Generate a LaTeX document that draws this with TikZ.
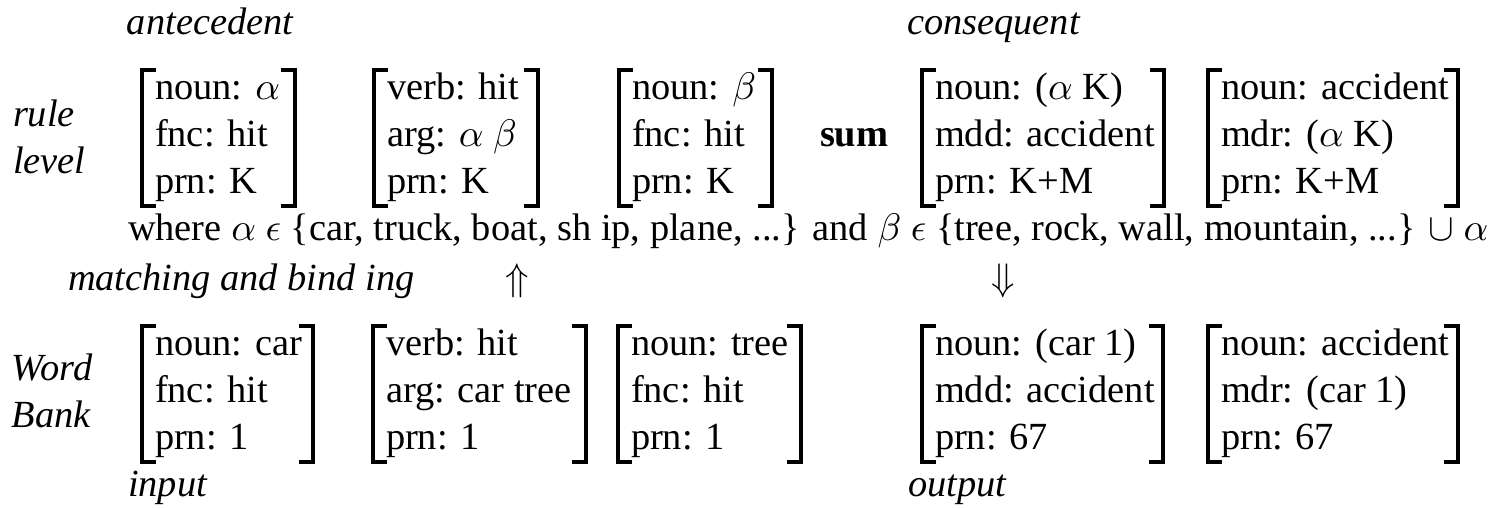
\documentclass[tikz,border=0pt]{standalone}
\usepackage{fontspec}
\setmainfont{Liberation Serif}
\usetikzlibrary{calc,fit}
\tikzset{
  txt/.style={anchor=base west, inner sep=0pt, outer sep=0pt},
  lab/.style={txt, font=\itshape},
  frame/.style={inner sep=0pt, outer sep=0pt},
  brk/.style={line width=0.8pt, line cap=rect},
  arr/.style={inner sep=0pt, anchor=center}
}
% #1 name, #2 left, #3 right, #4 top, #5-#7 lines
\newcommand\Proplet[7]{%
  \node[frame, fit={(#2,#4) (#3,#4+136)}] (#1) {};
  \draw[brk] ($(#1.north west)+(12,0)$) -- (#1.north west) -- (#1.south west) -- ($(#1.south west)+(12,0)$);
  \draw[brk] ($(#1.north east)+(-12,0)$) -- (#1.north east) -- (#1.south east) -- ($(#1.south east)+(-12,0)$);
  \node[txt] (#1-1) at ($(#1.north west)+(13,30)$) {#5};
  \node[txt] (#1-2) at ($(#1.north west)+(13,77)$) {#6};
  \node[txt] (#1-3) at ($(#1.north west)+(13,124)$) {#7};
}
\begin{document}
\begin{tikzpicture}[x=0.2604pt,y=-0.2604pt]
\useasboundingbox (0,0) rectangle (1503,508);
% labels
\node[lab] (ante) at (127,35) {antecedent};
\node[lab] (cons) at (907,35) {consequent};
\node[lab] (rule) at (13,127) {rule};
\node[lab] (level) at (13,174) {level};
\node[txt, font=\bfseries] (sum) at (820,147) {sum};
% rule level proplets
\Proplet{r1}{142}{295}{70}{noun: $\alpha$}{fnc: hit}{prn: K}
\Proplet{r2}{374}{538}{70}{verb: hit}{arg: $\alpha$ $\beta$}{prn: K}
\Proplet{r3}{619}{772}{70}{noun: $\beta$}{fnc: hit}{prn: K}
\Proplet{r4}{922}{1164}{70}{noun: ($\alpha$ K)}{mdd: accident}{prn: K+M}
\Proplet{r5}{1208}{1458}{70}{noun: accident}{mdr: ($\alpha$ K)}{prn: K+M}
% where line
\node[txt] (where) at (128,241) {where $\alpha$ $\epsilon$ \{car, truck, boat, sh ip, plane, ...\} and $\beta$ $\epsilon$ \{tree, rock, wall, mountain, ...\} $\cup$ $\alpha$};
\node[lab] (match) at (68,291) {matching and bind ing};
\node[arr] (up) at (517,281) {$\Uparrow$};
\node[arr] (down) at (1003,281) {$\Downarrow$};
% word bank
\node[lab] (word) at (12,381) {Word};
\node[lab] (bank) at (12,428) {Bank};
\Proplet{w1}{142}{313}{326}{noun: car}{fnc: hit}{prn: 1}
\Proplet{w2}{373}{586}{326}{verb: hit}{arg: car tree}{prn: 1}
\Proplet{w3}{618}{801}{326}{noun: tree}{fnc: hit}{prn: 1}
\Proplet{w4}{922}{1163}{326}{noun: (car 1)}{mdd: accident}{prn: 67}
\Proplet{w5}{1208}{1458}{326}{noun: accident}{mdr: (car 1)}{prn: 67}
\node[lab] (input) at (128,497) {input};
\node[lab] (output) at (908,497) {output};
\end{tikzpicture}
\end{document}
